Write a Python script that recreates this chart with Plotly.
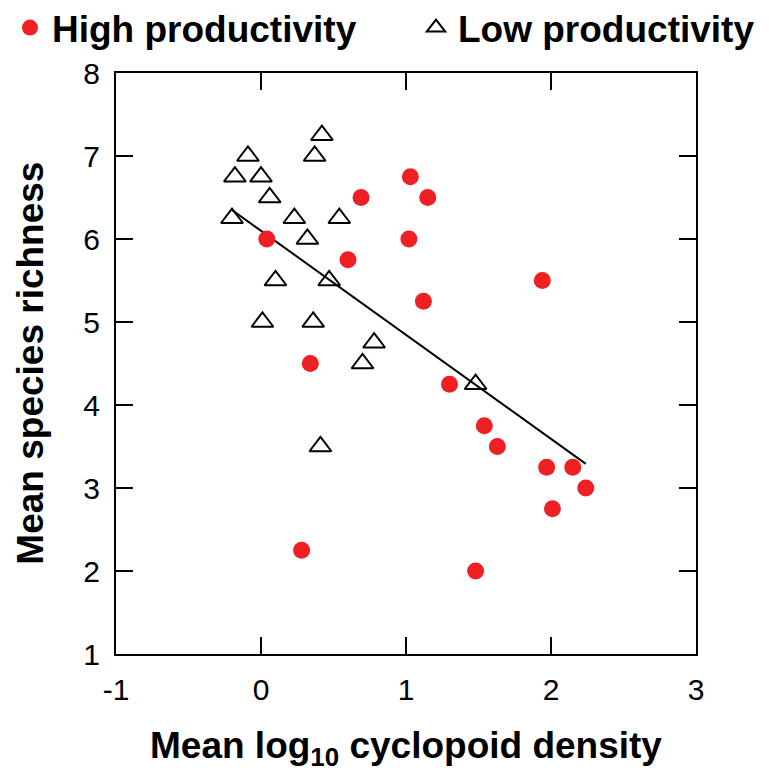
import plotly.graph_objects as go

# High productivity (red circles)
high_x = [0.69, 0.04, 0.60, 0.34, 1.03, 1.15, 1.02, 1.94, 1.12, 0.28, 1.30, 1.54, 1.63, 1.97, 2.15, 2.24, 2.01, 1.48]
high_y = [6.50, 6.00, 5.75, 4.50, 6.75, 6.50, 6.00, 5.50, 5.25, 2.25, 4.25, 3.75, 3.50, 3.25, 3.25, 3.00, 2.75, 2.00]

# Low productivity (open triangles)
low_x = [0.42, -0.09, 0.37, -0.18, 0.00, 0.06, -0.20, 0.23, 0.54, 0.32, 0.10, 0.47, 0.01, 0.36, 0.78, 0.70, 0.41, 1.48]
low_y = [7.25, 7.00, 7.00, 6.75, 6.75, 6.50, 6.25, 6.25, 6.25, 6.00, 5.50, 5.50, 5.00, 5.00, 4.75, 4.50, 3.50, 4.25]

# Fitted regression line (endpoints)
fit_x = [-0.20, 2.24]
fit_y = [6.35, 3.29]

x_ticks = [-1, 0, 1, 2, 3]
y_ticks = [1, 2, 3, 4, 5, 6, 7, 8]

FONT = "Liberation Sans, Arial, sans-serif"

fig = go.Figure()
fig.add_trace(go.Scatter(
    x=fit_x, y=fit_y, mode="lines",
    line=dict(color="black", width=2), showlegend=False, hoverinfo="skip"))
fig.add_trace(go.Scatter(
    x=high_x, y=high_y, mode="markers", name="High productivity", legend="legend",
    marker=dict(symbol="circle", size=17, color="#ee2024", line=dict(width=0))))
fig.add_trace(go.Scatter(
    x=low_x, y=low_y, mode="markers", name="Low productivity", legend="legend2",
    marker=dict(symbol="triangle-up-open", size=19, color="black", line=dict(width=2, color="black"))))

axis_common = dict(
    showline=True, linecolor="black", linewidth=2, mirror="ticks",
    ticks="inside", ticklen=17, tickwidth=2, tickcolor="black",
    showgrid=False, zeroline=False,
    tickfont=dict(family=FONT, size=30, color="black"),
)

W, H = 761, 765

legend_common = dict(
    orientation="h", xref="container", yref="container",
    y=1 - 20 / H, yanchor="middle",
    font=dict(family=FONT, size=37, color="black", weight="bold"),
    itemsizing="trace", itemwidth=34, bgcolor="rgba(0,0,0,0)",
)

fig.update_layout(
    width=W, height=H,
    margin=dict(l=108, r=73, t=65, b=119, autoexpand=False),
    paper_bgcolor="white", plot_bgcolor="white",
    font=dict(family=FONT, color="black"),
    xaxis=dict(range=[-1, 3], tickvals=x_ticks, ticktext=[str(v) for v in x_ticks],
               ticklabelstandoff=8, **axis_common),
    yaxis=dict(range=[1, 8], tickvals=y_ticks, ticktext=[str(v) for v in y_ticks],
               ticklabelstandoff=8, **axis_common),
    legend=dict(x=0.0, xanchor="left", **legend_common),
    legend2=dict(x=406 / W, xanchor="left", **legend_common),
    annotations=[
        dict(text="Mean log<sub>10</sub> cyclopoid density", xref="paper", yref="paper",
             x=0.5, y=-0.161, xanchor="center", yanchor="middle", showarrow=False,
             font=dict(family=FONT, size=37, color="black", weight="bold")),
        dict(text="Mean species richness", xref="paper", yref="paper",
             x=-0.148, y=0.5, xanchor="center", yanchor="middle", showarrow=False,
             textangle=-90,
             font=dict(family=FONT, size=37, color="black", weight="bold")),
    ],
)

fig.write_html("out.html")
